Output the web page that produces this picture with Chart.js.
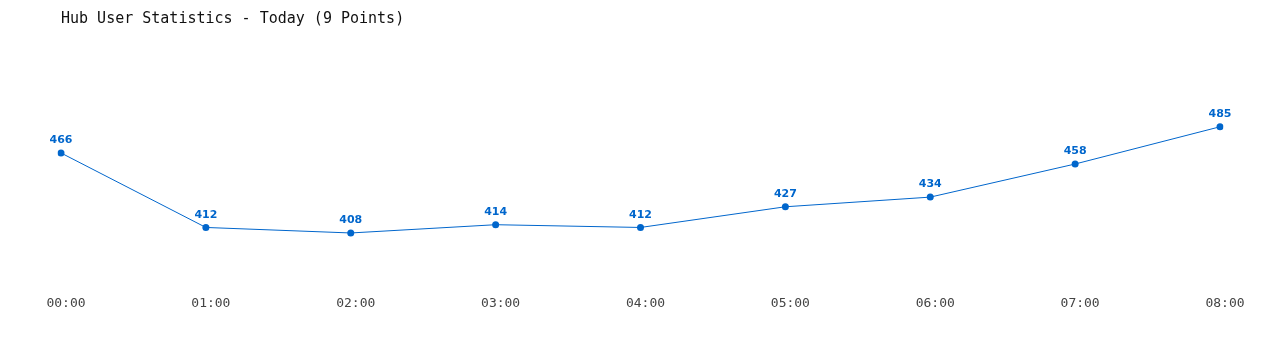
<!DOCTYPE html>
<html>
<head>
<meta charset="utf-8">
<script src="https://cdn.jsdelivr.net/npm/chart.js@4/dist/chart.umd.min.js"></script>
<style>
  html, body { margin: 0; padding: 0; background: #fff; }
  #wrap { width: 1280px; height: 350px; }
</style>
</head>
<body>
<div id="wrap"><canvas id="graficaUsuarios" width="1280" height="350"></canvas></div>
<script>
var horas = ["00:00", "01:00", "02:00", "03:00", "04:00", "05:00", "06:00", "07:00", "08:00"];
var usuarios = [466, 412, 408, 414, 412, 427, 434, 458, 485];
var tituloGrafica = "Hub User Statistics - Today (9 Points)";
var colorLinea = "#0066cc";

// dibuja el valor encima de cada punto
var etiquetasPuntos = {
    id: 'etiquetasPuntos',
    afterDatasetsDraw: function (chart) {
        var ctx = chart.ctx;
        var meta = chart.getDatasetMeta(0);
        ctx.save();
        ctx.font = "bold 11px 'DejaVu Sans', sans-serif";
        ctx.fillStyle = colorLinea;
        ctx.textAlign = "center";
        ctx.textBaseline = "bottom";
        meta.data.forEach(function (punto, i) {
            ctx.fillText(chart.data.datasets[0].data[i], punto.x, punto.y - 7);
        });
        ctx.restore();
    }
};

var ctx = document.getElementById('graficaUsuarios').getContext('2d');

new Chart(ctx, {
    type: 'line',
    data: {
        labels: horas,
        datasets: [{
            data: usuarios,
            borderColor: colorLinea,
            backgroundColor: colorLinea,
            borderWidth: 1,
            pointRadius: 3.5,
            pointHoverRadius: 3.5,
            pointBorderWidth: 0,
            tension: 0
        }]
    },
    options: {
        responsive: false,
        animation: false,
        events: [],
        layout: { padding: { left: 61, right: 60, top: 0, bottom: 29 } },
        plugins: {
            legend: { display: false },
            tooltip: { enabled: false },
            title: {
                display: true,
                text: tituloGrafica,
                align: 'start',
                color: '#111',
                font: { family: "'DejaVu Sans Mono', monospace", size: 15, weight: 'normal' },
                padding: { top: 10, bottom: 12 }
            }
        },
        scales: {
            x: {
                offset: false,
                grid: { display: false, drawTicks: false },
                border: { display: false },
                ticks: {
                    color: '#444',
                    font: { family: "'DejaVu Sans Mono', monospace", size: 13 },
                    padding: 10,
                    labelOffset: 5,
                    maxRotation: 0,
                    autoSkip: false
                }
            },
            y: {
                display: false,
                min: 370,
                max: 547.9
            }
        }
    },
    plugins: [etiquetasPuntos]
});
</script>
</body>
</html>
